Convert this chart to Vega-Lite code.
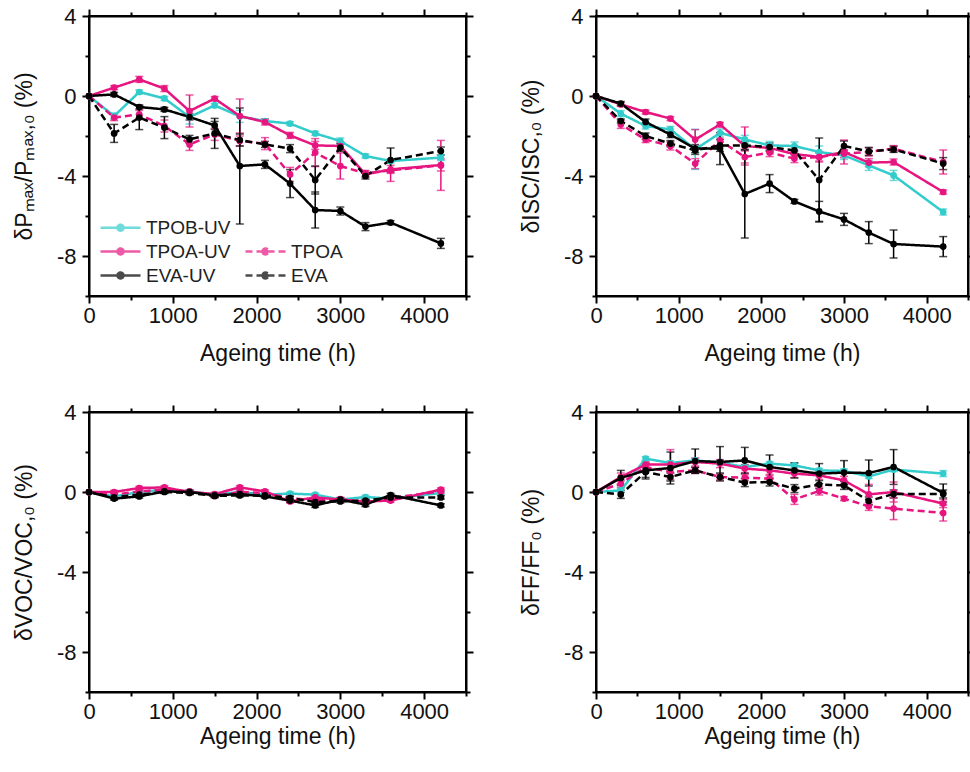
{
"$schema": "https://vega.github.io/schema/vega-lite/v6.json",
"padding": {"left": 12, "top": 4, "right": 0, "bottom": 0},
"background": "white",
"config": {
  "font": "Liberation Sans",
  "view": {"stroke": "#000", "strokeWidth": 2},
  "axis": {"domainColor": "#000", "domainWidth": 2, "tickColor": "#000", "tickWidth": 2, "labelFont": "Liberation Sans", "labelFontSize": 22, "labelColor": "#111", "titleFont": "Liberation Sans", "titleFontSize": 23, "titleFontWeight": "normal", "titleColor": "#111", "grid": false, "labelOverlap": false, "labelFlush": false}
},
"data": {"name": "rows"},
"datasets": {"rows": [
{"p":"P","s":"TPOB-UV","t":0,"v":0,"e":0},{"p":"P","s":"TPOB-UV","t":300,"v":-1.0,"e":0.15},{"p":"P","s":"TPOB-UV","t":600,"v":0.2,"e":0.1},{"p":"P","s":"TPOB-UV","t":900,"v":-0.12,"e":0.1},{"p":"P","s":"TPOB-UV","t":1200,"v":-1.05,"e":0.35},{"p":"P","s":"TPOB-UV","t":1500,"v":-0.47,"e":0.1},{"p":"P","s":"TPOB-UV","t":1800,"v":-1.02,"e":0.3},{"p":"P","s":"TPOB-UV","t":2100,"v":-1.25,"e":0.1},{"p":"P","s":"TPOB-UV","t":2400,"v":-1.38,"e":0.1},{"p":"P","s":"TPOB-UV","t":2700,"v":-1.87,"e":0.1},{"p":"P","s":"TPOB-UV","t":3000,"v":-2.25,"e":0.15},{"p":"P","s":"TPOB-UV","t":3300,"v":-3.0,"e":0.1},{"p":"P","s":"TPOB-UV","t":3600,"v":-3.25,"e":0.1},{"p":"P","s":"TPOB-UV","t":4200,"v":-3.08,"e":0.15},
{"p":"P","s":"TPOA-UV","t":0,"v":0,"e":0},{"p":"P","s":"TPOA-UV","t":300,"v":0.42,"e":0.1},{"p":"P","s":"TPOA-UV","t":600,"v":0.83,"e":0.15},{"p":"P","s":"TPOA-UV","t":900,"v":0.37,"e":0.15},{"p":"P","s":"TPOA-UV","t":1200,"v":-0.75,"e":0.8},{"p":"P","s":"TPOA-UV","t":1500,"v":-0.13,"e":0.1},{"p":"P","s":"TPOA-UV","t":1800,"v":-1.0,"e":0.85},{"p":"P","s":"TPOA-UV","t":2100,"v":-1.3,"e":0.15},{"p":"P","s":"TPOA-UV","t":2400,"v":-1.97,"e":0.15},{"p":"P","s":"TPOA-UV","t":2700,"v":-2.47,"e":0.2},{"p":"P","s":"TPOA-UV","t":3000,"v":-2.5,"e":0.2},{"p":"P","s":"TPOA-UV","t":3300,"v":-3.92,"e":0.15},{"p":"P","s":"TPOA-UV","t":3600,"v":-3.67,"e":0.2},{"p":"P","s":"TPOA-UV","t":4200,"v":-3.45,"e":0.3},
{"p":"P","s":"TPOA","t":0,"v":0,"e":0},{"p":"P","s":"TPOA","t":300,"v":-1.08,"e":0.15},{"p":"P","s":"TPOA","t":600,"v":-0.92,"e":0.2},{"p":"P","s":"TPOA","t":900,"v":-1.5,"e":0.3},{"p":"P","s":"TPOA","t":1200,"v":-2.42,"e":0.3},{"p":"P","s":"TPOA","t":1500,"v":-1.92,"e":0.3},{"p":"P","s":"TPOA","t":1800,"v":-2.25,"e":0.25},{"p":"P","s":"TPOA","t":2100,"v":-2.38,"e":0.3},{"p":"P","s":"TPOA","t":2400,"v":-3.92,"e":0.35},{"p":"P","s":"TPOA","t":2700,"v":-2.83,"e":0.7},{"p":"P","s":"TPOA","t":3000,"v":-3.5,"e":0.65},{"p":"P","s":"TPOA","t":3300,"v":-3.87,"e":0.15},{"p":"P","s":"TPOA","t":3600,"v":-3.72,"e":0.55},{"p":"P","s":"TPOA","t":4200,"v":-3.47,"e":1.25},
{"p":"P","s":"EVA-UV","t":0,"v":0,"e":0},{"p":"P","s":"EVA-UV","t":300,"v":0.08,"e":0.1},{"p":"P","s":"EVA-UV","t":600,"v":-0.55,"e":0.1},{"p":"P","s":"EVA-UV","t":900,"v":-0.67,"e":0.1},{"p":"P","s":"EVA-UV","t":1200,"v":-1.05,"e":0.15},{"p":"P","s":"EVA-UV","t":1500,"v":-1.47,"e":0.2},{"p":"P","s":"EVA-UV","t":1800,"v":-3.5,"e":2.9},{"p":"P","s":"EVA-UV","t":2100,"v":-3.42,"e":0.2},{"p":"P","s":"EVA-UV","t":2400,"v":-4.38,"e":0.7},{"p":"P","s":"EVA-UV","t":2700,"v":-5.7,"e":0.9},{"p":"P","s":"EVA-UV","t":3000,"v":-5.75,"e":0.2},{"p":"P","s":"EVA-UV","t":3300,"v":-6.53,"e":0.2},{"p":"P","s":"EVA-UV","t":3600,"v":-6.33,"e":0.1},{"p":"P","s":"EVA-UV","t":4200,"v":-7.37,"e":0.25},
{"p":"P","s":"EVA","t":0,"v":0,"e":0},{"p":"P","s":"EVA","t":300,"v":-1.87,"e":0.45},{"p":"P","s":"EVA","t":600,"v":-1.08,"e":0.6},{"p":"P","s":"EVA","t":900,"v":-1.58,"e":0.55},{"p":"P","s":"EVA","t":1200,"v":-2.17,"e":0.2},{"p":"P","s":"EVA","t":1500,"v":-1.87,"e":0.75},{"p":"P","s":"EVA","t":1800,"v":-2.2,"e":0.3},{"p":"P","s":"EVA","t":2100,"v":-2.42,"e":0.15},{"p":"P","s":"EVA","t":2400,"v":-2.63,"e":0.2},{"p":"P","s":"EVA","t":2700,"v":-4.2,"e":0.7},{"p":"P","s":"EVA","t":3000,"v":-2.58,"e":0.2},{"p":"P","s":"EVA","t":3300,"v":-4.0,"e":0.15},{"p":"P","s":"EVA","t":3600,"v":-3.2,"e":0.6},{"p":"P","s":"EVA","t":4200,"v":-2.75,"e":0.2},

{"p":"I","s":"TPOB-UV","t":0,"v":0,"e":0},{"p":"I","s":"TPOB-UV","t":300,"v":-0.88,"e":0.15},{"p":"I","s":"TPOB-UV","t":600,"v":-1.5,"e":0.15},{"p":"I","s":"TPOB-UV","t":900,"v":-1.67,"e":0.15},{"p":"I","s":"TPOB-UV","t":1200,"v":-2.67,"e":1.0},{"p":"I","s":"TPOB-UV","t":1500,"v":-1.85,"e":0.2},{"p":"I","s":"TPOB-UV","t":1800,"v":-2.17,"e":0.2},{"p":"I","s":"TPOB-UV","t":2100,"v":-2.47,"e":0.2},{"p":"I","s":"TPOB-UV","t":2400,"v":-2.5,"e":0.2},{"p":"I","s":"TPOB-UV","t":2700,"v":-2.8,"e":0.3},{"p":"I","s":"TPOB-UV","t":3000,"v":-2.97,"e":0.2},{"p":"I","s":"TPOB-UV","t":3300,"v":-3.47,"e":0.25},{"p":"I","s":"TPOB-UV","t":3600,"v":-3.97,"e":0.25},{"p":"I","s":"TPOB-UV","t":4200,"v":-5.8,"e":0.15},
{"p":"I","s":"TPOA-UV","t":0,"v":0,"e":0},{"p":"I","s":"TPOA-UV","t":300,"v":-0.42,"e":0.1},{"p":"I","s":"TPOA-UV","t":600,"v":-0.8,"e":0.1},{"p":"I","s":"TPOA-UV","t":900,"v":-1.13,"e":0.1},{"p":"I","s":"TPOA-UV","t":1200,"v":-2.18,"e":0.5},{"p":"I","s":"TPOA-UV","t":1500,"v":-1.42,"e":0.1},{"p":"I","s":"TPOA-UV","t":1800,"v":-2.5,"e":0.95},{"p":"I","s":"TPOA-UV","t":2100,"v":-2.6,"e":0.15},{"p":"I","s":"TPOA-UV","t":2400,"v":-2.9,"e":0.15},{"p":"I","s":"TPOA-UV","t":2700,"v":-3.05,"e":0.2},{"p":"I","s":"TPOA-UV","t":3000,"v":-2.8,"e":0.6},{"p":"I","s":"TPOA-UV","t":3300,"v":-3.33,"e":0.2},{"p":"I","s":"TPOA-UV","t":3600,"v":-3.3,"e":0.15},{"p":"I","s":"TPOA-UV","t":4200,"v":-4.8,"e":0.1},
{"p":"I","s":"TPOA","t":0,"v":0,"e":0},{"p":"I","s":"TPOA","t":300,"v":-1.42,"e":0.2},{"p":"I","s":"TPOA","t":600,"v":-2.18,"e":0.15},{"p":"I","s":"TPOA","t":900,"v":-2.5,"e":0.2},{"p":"I","s":"TPOA","t":1200,"v":-3.38,"e":0.25},{"p":"I","s":"TPOA","t":1500,"v":-2.22,"e":0.3},{"p":"I","s":"TPOA","t":1800,"v":-3.05,"e":0.3},{"p":"I","s":"TPOA","t":2100,"v":-2.83,"e":0.2},{"p":"I","s":"TPOA","t":2400,"v":-3.13,"e":0.2},{"p":"I","s":"TPOA","t":2700,"v":-3.05,"e":0.25},{"p":"I","s":"TPOA","t":3000,"v":-2.88,"e":0.2},{"p":"I","s":"TPOA","t":3300,"v":-2.8,"e":0.2},{"p":"I","s":"TPOA","t":3600,"v":-2.63,"e":0.15},{"p":"I","s":"TPOA","t":4200,"v":-3.3,"e":0.6},
{"p":"I","s":"EVA-UV","t":0,"v":0,"e":0},{"p":"I","s":"EVA-UV","t":300,"v":-0.38,"e":0.1},{"p":"I","s":"EVA-UV","t":600,"v":-1.3,"e":0.15},{"p":"I","s":"EVA-UV","t":900,"v":-1.93,"e":0.15},{"p":"I","s":"EVA-UV","t":1200,"v":-2.63,"e":0.2},{"p":"I","s":"EVA-UV","t":1500,"v":-2.63,"e":0.8},{"p":"I","s":"EVA-UV","t":1800,"v":-4.9,"e":2.2},{"p":"I","s":"EVA-UV","t":2100,"v":-4.38,"e":0.45},{"p":"I","s":"EVA-UV","t":2400,"v":-5.27,"e":0.1},{"p":"I","s":"EVA-UV","t":2700,"v":-5.77,"e":0.5},{"p":"I","s":"EVA-UV","t":3000,"v":-6.17,"e":0.3},{"p":"I","s":"EVA-UV","t":3300,"v":-6.83,"e":0.55},{"p":"I","s":"EVA-UV","t":3600,"v":-7.4,"e":0.7},{"p":"I","s":"EVA-UV","t":4200,"v":-7.53,"e":0.5},
{"p":"I","s":"EVA","t":0,"v":0,"e":0},{"p":"I","s":"EVA","t":300,"v":-1.25,"e":0.1},{"p":"I","s":"EVA","t":600,"v":-2.0,"e":0.15},{"p":"I","s":"EVA","t":900,"v":-2.38,"e":0.15},{"p":"I","s":"EVA","t":1200,"v":-2.72,"e":0.2},{"p":"I","s":"EVA","t":1500,"v":-2.47,"e":0.3},{"p":"I","s":"EVA","t":1800,"v":-2.47,"e":0.2},{"p":"I","s":"EVA","t":2100,"v":-2.55,"e":0.2},{"p":"I","s":"EVA","t":2400,"v":-2.72,"e":0.2},{"p":"I","s":"EVA","t":2700,"v":-4.2,"e":2.1},{"p":"I","s":"EVA","t":3000,"v":-2.5,"e":0.25},{"p":"I","s":"EVA","t":3300,"v":-2.77,"e":0.2},{"p":"I","s":"EVA","t":3600,"v":-2.67,"e":0.15},{"p":"I","s":"EVA","t":4200,"v":-3.38,"e":0.3},

{"p":"V","s":"TPOB-UV","t":0,"v":0,"e":0},{"p":"V","s":"TPOB-UV","t":300,"v":-0.22,"e":0.08},{"p":"V","s":"TPOB-UV","t":600,"v":0,"e":0.08},{"p":"V","s":"TPOB-UV","t":900,"v":0.12,"e":0.08},{"p":"V","s":"TPOB-UV","t":1200,"v":0.03,"e":0.08},{"p":"V","s":"TPOB-UV","t":1500,"v":-0.13,"e":0.08},{"p":"V","s":"TPOB-UV","t":1800,"v":0,"e":0.12},{"p":"V","s":"TPOB-UV","t":2100,"v":-0.13,"e":0.08},{"p":"V","s":"TPOB-UV","t":2400,"v":-0.08,"e":0.08},{"p":"V","s":"TPOB-UV","t":2700,"v":-0.13,"e":0.08},{"p":"V","s":"TPOB-UV","t":3000,"v":-0.38,"e":0.08},{"p":"V","s":"TPOB-UV","t":3300,"v":-0.25,"e":0.08},{"p":"V","s":"TPOB-UV","t":3600,"v":-0.33,"e":0.08},{"p":"V","s":"TPOB-UV","t":4200,"v":-0.05,"e":0.08},
{"p":"V","s":"TPOA-UV","t":0,"v":0,"e":0},{"p":"V","s":"TPOA-UV","t":300,"v":0,"e":0.08},{"p":"V","s":"TPOA-UV","t":600,"v":0.2,"e":0.08},{"p":"V","s":"TPOA-UV","t":900,"v":0.23,"e":0.08},{"p":"V","s":"TPOA-UV","t":1200,"v":0,"e":0.08},{"p":"V","s":"TPOA-UV","t":1500,"v":-0.1,"e":0.08},{"p":"V","s":"TPOA-UV","t":1800,"v":0.23,"e":0.08},{"p":"V","s":"TPOA-UV","t":2100,"v":0.03,"e":0.08},{"p":"V","s":"TPOA-UV","t":2400,"v":-0.47,"e":0.08},{"p":"V","s":"TPOA-UV","t":2700,"v":-0.27,"e":0.08},{"p":"V","s":"TPOA-UV","t":3000,"v":-0.38,"e":0.08},{"p":"V","s":"TPOA-UV","t":3300,"v":-0.47,"e":0.08},{"p":"V","s":"TPOA-UV","t":3600,"v":-0.43,"e":0.08},{"p":"V","s":"TPOA-UV","t":4200,"v":0.12,"e":0.08},
{"p":"V","s":"TPOA","t":0,"v":0,"e":0},{"p":"V","s":"TPOA","t":300,"v":-0.13,"e":0.08},{"p":"V","s":"TPOA","t":600,"v":0.03,"e":0.08},{"p":"V","s":"TPOA","t":900,"v":0.12,"e":0.08},{"p":"V","s":"TPOA","t":1200,"v":0.03,"e":0.08},{"p":"V","s":"TPOA","t":1500,"v":-0.2,"e":0.08},{"p":"V","s":"TPOA","t":1800,"v":0,"e":0.08},{"p":"V","s":"TPOA","t":2100,"v":-0.05,"e":0.08},{"p":"V","s":"TPOA","t":2400,"v":-0.3,"e":0.08},{"p":"V","s":"TPOA","t":2700,"v":-0.43,"e":0.08},{"p":"V","s":"TPOA","t":3000,"v":-0.35,"e":0.08},{"p":"V","s":"TPOA","t":3300,"v":-0.55,"e":0.08},{"p":"V","s":"TPOA","t":3600,"v":-0.3,"e":0.08},{"p":"V","s":"TPOA","t":4200,"v":0.03,"e":0.08},
{"p":"V","s":"EVA-UV","t":0,"v":0,"e":0},{"p":"V","s":"EVA-UV","t":300,"v":-0.33,"e":0.08},{"p":"V","s":"EVA-UV","t":600,"v":-0.22,"e":0.08},{"p":"V","s":"EVA-UV","t":900,"v":0.03,"e":0.08},{"p":"V","s":"EVA-UV","t":1200,"v":0,"e":0.08},{"p":"V","s":"EVA-UV","t":1500,"v":-0.17,"e":0.08},{"p":"V","s":"EVA-UV","t":1800,"v":-0.1,"e":0.08},{"p":"V","s":"EVA-UV","t":2100,"v":-0.22,"e":0.08},{"p":"V","s":"EVA-UV","t":2400,"v":-0.43,"e":0.08},{"p":"V","s":"EVA-UV","t":2700,"v":-0.67,"e":0.1},{"p":"V","s":"EVA-UV","t":3000,"v":-0.38,"e":0.08},{"p":"V","s":"EVA-UV","t":3300,"v":-0.63,"e":0.1},{"p":"V","s":"EVA-UV","t":3600,"v":-0.15,"e":0.08},{"p":"V","s":"EVA-UV","t":4200,"v":-0.67,"e":0.08},
{"p":"V","s":"EVA","t":0,"v":0,"e":0},{"p":"V","s":"EVA","t":300,"v":-0.27,"e":0.08},{"p":"V","s":"EVA","t":600,"v":-0.13,"e":0.08},{"p":"V","s":"EVA","t":900,"v":0,"e":0.08},{"p":"V","s":"EVA","t":1200,"v":-0.05,"e":0.08},{"p":"V","s":"EVA","t":1500,"v":-0.2,"e":0.08},{"p":"V","s":"EVA","t":1800,"v":-0.17,"e":0.08},{"p":"V","s":"EVA","t":2100,"v":-0.17,"e":0.08},{"p":"V","s":"EVA","t":2400,"v":-0.3,"e":0.08},{"p":"V","s":"EVA","t":2700,"v":-0.5,"e":0.1},{"p":"V","s":"EVA","t":3000,"v":-0.47,"e":0.08},{"p":"V","s":"EVA","t":3300,"v":-0.43,"e":0.08},{"p":"V","s":"EVA","t":3600,"v":-0.27,"e":0.08},{"p":"V","s":"EVA","t":4200,"v":-0.27,"e":0.08},

{"p":"F","s":"TPOB-UV","t":0,"v":0,"e":0},{"p":"F","s":"TPOB-UV","t":300,"v":0.08,"e":0.1},{"p":"F","s":"TPOB-UV","t":600,"v":1.67,"e":0.1},{"p":"F","s":"TPOB-UV","t":900,"v":1.45,"e":0.1},{"p":"F","s":"TPOB-UV","t":1200,"v":1.58,"e":0.1},{"p":"F","s":"TPOB-UV","t":1500,"v":1.47,"e":0.1},{"p":"F","s":"TPOB-UV","t":1800,"v":1.25,"e":0.1},{"p":"F","s":"TPOB-UV","t":2100,"v":1.42,"e":0.1},{"p":"F","s":"TPOB-UV","t":2400,"v":1.33,"e":0.1},{"p":"F","s":"TPOB-UV","t":2700,"v":1.08,"e":0.1},{"p":"F","s":"TPOB-UV","t":3000,"v":1.05,"e":0.1},{"p":"F","s":"TPOB-UV","t":3300,"v":0.78,"e":0.1},{"p":"F","s":"TPOB-UV","t":3600,"v":1.12,"e":0.1},{"p":"F","s":"TPOB-UV","t":4200,"v":0.92,"e":0.15},
{"p":"F","s":"TPOA-UV","t":0,"v":0,"e":0},{"p":"F","s":"TPOA-UV","t":300,"v":0.75,"e":0.2},{"p":"F","s":"TPOA-UV","t":600,"v":1.37,"e":0.15},{"p":"F","s":"TPOA-UV","t":900,"v":1.37,"e":0.75},{"p":"F","s":"TPOA-UV","t":1200,"v":1.5,"e":0.2},{"p":"F","s":"TPOA-UV","t":1500,"v":1.42,"e":0.2},{"p":"F","s":"TPOA-UV","t":1800,"v":1.17,"e":0.2},{"p":"F","s":"TPOA-UV","t":2100,"v":1.08,"e":0.2},{"p":"F","s":"TPOA-UV","t":2400,"v":0.92,"e":0.2},{"p":"F","s":"TPOA-UV","t":2700,"v":0.83,"e":0.2},{"p":"F","s":"TPOA-UV","t":3000,"v":0.58,"e":0.2},{"p":"F","s":"TPOA-UV","t":3300,"v":-0.12,"e":0.5},{"p":"F","s":"TPOA-UV","t":3600,"v":0,"e":0.5},{"p":"F","s":"TPOA-UV","t":4200,"v":-0.58,"e":0.2},
{"p":"F","s":"TPOA","t":0,"v":0,"e":0},{"p":"F","s":"TPOA","t":300,"v":0.42,"e":0.2},{"p":"F","s":"TPOA","t":600,"v":1.25,"e":0.2},{"p":"F","s":"TPOA","t":900,"v":1.0,"e":0.2},{"p":"F","s":"TPOA","t":1200,"v":1.08,"e":0.15},{"p":"F","s":"TPOA","t":1500,"v":0.75,"e":0.15},{"p":"F","s":"TPOA","t":1800,"v":0.72,"e":0.15},{"p":"F","s":"TPOA","t":2100,"v":0.67,"e":0.15},{"p":"F","s":"TPOA","t":2400,"v":-0.37,"e":0.25},{"p":"F","s":"TPOA","t":2700,"v":0.05,"e":0.2},{"p":"F","s":"TPOA","t":3000,"v":-0.33,"e":0.1},{"p":"F","s":"TPOA","t":3300,"v":-0.72,"e":0.2},{"p":"F","s":"TPOA","t":3600,"v":-0.83,"e":0.55},{"p":"F","s":"TPOA","t":4200,"v":-1.05,"e":0.4},
{"p":"F","s":"EVA-UV","t":0,"v":0,"e":0},{"p":"F","s":"EVA-UV","t":300,"v":0.7,"e":0.38},{"p":"F","s":"EVA-UV","t":600,"v":1.08,"e":0.35},{"p":"F","s":"EVA-UV","t":900,"v":1.2,"e":0.8},{"p":"F","s":"EVA-UV","t":1200,"v":1.55,"e":0.6},{"p":"F","s":"EVA-UV","t":1500,"v":1.5,"e":0.77},{"p":"F","s":"EVA-UV","t":1800,"v":1.58,"e":0.65},{"p":"F","s":"EVA-UV","t":2100,"v":1.25,"e":0.6},{"p":"F","s":"EVA-UV","t":2400,"v":1.08,"e":0.38},{"p":"F","s":"EVA-UV","t":2700,"v":0.92,"e":0.5},{"p":"F","s":"EVA-UV","t":3000,"v":0.97,"e":0.6},{"p":"F","s":"EVA-UV","t":3300,"v":0.95,"e":0.65},{"p":"F","s":"EVA-UV","t":3600,"v":1.25,"e":0.87},{"p":"F","s":"EVA-UV","t":4200,"v":-0.05,"e":0.45},
{"p":"F","s":"EVA","t":0,"v":0,"e":0},{"p":"F","s":"EVA","t":300,"v":-0.12,"e":0.2},{"p":"F","s":"EVA","t":600,"v":1.0,"e":0.35},{"p":"F","s":"EVA","t":900,"v":0.75,"e":0.2},{"p":"F","s":"EVA","t":1200,"v":1.08,"e":0.15},{"p":"F","s":"EVA","t":1500,"v":0.75,"e":0.2},{"p":"F","s":"EVA","t":1800,"v":0.47,"e":0.2},{"p":"F","s":"EVA","t":2100,"v":0.5,"e":0.2},{"p":"F","s":"EVA","t":2400,"v":0.17,"e":0.2},{"p":"F","s":"EVA","t":2700,"v":0.37,"e":0.2},{"p":"F","s":"EVA","t":3000,"v":0.33,"e":0.2},{"p":"F","s":"EVA","t":3300,"v":-0.45,"e":0.2},{"p":"F","s":"EVA","t":3600,"v":-0.1,"e":0.2},{"p":"F","s":"EVA","t":4200,"v":-0.1,"e":0.2}
]},
"columns": 2,
"spacing": {"row": 34, "column": 44},
"resolve": {"legend": {"color": "independent", "strokeDash": "independent"}},
"concat": [
{
 "width": 377, "height": 280,
 "transform": [{"filter": "datum.p === 'P'"}],
 "resolve": {"axis": {"x": "independent", "y": "independent"}},
 "layer": [
  {"transform": [{"filter": "datum.e > 0"}], "mark": {"type": "errorbar", "ticks": true, "size": 8, "thickness": 1.5},
   "encoding": {"x": {"field": "t", "type": "quantitative", "scale": {"domain": [0, 4500], "nice": false}, "axis": null}, "y": {"field": "v", "type": "quantitative", "scale": {"domain": [-10, 4], "nice": false}, "axis": null}, "yError": {"field": "e"},
    "color": {"field": "s", "type": "nominal", "scale": {"domain": ["TPOB-UV", "TPOA-UV", "EVA-UV", " ", "TPOA", "EVA"], "range": ["#33cccc", "#e6157f", "#000000", "rgba(0,0,0,0)", "#e6157f", "#000000"]}}}},
  {"mark": {"type": "line", "strokeWidth": 2.5},
   "encoding": {"x": {"field": "t", "type": "quantitative", "scale": {"domain": [0, 4500], "nice": false}, "axis": {"title": "Ageing time (h)", "values": [0,500,1000,1500,2000,2500,3000,3500,4000,4500], "labelExpr": "datum.value % 1000 === 0 ? '' + datum.value : ''", "tickSize": {"condition": {"test": "datum.value % 1000 === 0", "value": 7}, "value": 4}, "labelPadding": 2, "titlePadding": 16}},
    "y": {"field": "v", "type": "quantitative", "scale": {"domain": [-10, 4], "nice": false}, "axis": {"title": "δPₘₐₓ/Pₘₐₓ,₀ (%)", "values": [-10,-8,-6,-4,-2,0,2,4], "labelExpr": "datum.value % 4 === 0 ? '' + datum.value : ''", "tickSize": {"condition": {"test": "datum.value % 4 === 0", "value": 7}, "value": 4}, "labelPadding": 6, "titlePadding": 20}},
    "color": {"field": "s", "type": "nominal", "scale": {"domain": ["TPOB-UV", "TPOA-UV", "EVA-UV", " ", "TPOA", "EVA"], "range": ["#33cccc", "#e6157f", "#000000", "rgba(0,0,0,0)", "#e6157f", "#000000"]},
      "legend": {"title": null, "orient": "bottom-left", "offset": 10, "columns": 2, "columnPadding": 9, "rowPadding": 2, "padding": 0, "symbolType": "M-1,0L3,0M0.7,0A0.3,0.3,0,1,1,1.3,0A0.3,0.3,0,1,1,0.7,0", "symbolSize": 400, "symbolStrokeWidth": 2.5, "labelFont": "Liberation Sans", "labelFontSize": 19, "labelColor": "#222", "labelOffset": 24}},
    "strokeDash": {"field": "s", "type": "nominal", "scale": {"domain": ["TPOB-UV", "TPOA-UV", "EVA-UV", " ", "TPOA", "EVA"], "range": [[1,0],[1,0],[1,0],[1,0],[7,4],[7,4]]},
      "legend": {"title": null, "orient": "bottom-left", "offset": 10, "columns": 2, "columnPadding": 9, "rowPadding": 2, "padding": 0, "symbolType": "M-1,0L3,0M0.7,0A0.3,0.3,0,1,1,1.3,0A0.3,0.3,0,1,1,0.7,0", "symbolSize": 400, "symbolStrokeWidth": 2.5, "labelFont": "Liberation Sans", "labelFontSize": 19, "labelColor": "#222", "labelOffset": 24}}}},
  {"mark": {"type": "point", "filled": true, "size": 45, "opacity": 1},
   "encoding": {"x": {"field": "t", "type": "quantitative", "scale": {"domain": [0, 4500], "nice": false}, "axis": {"orient": "top", "title": null, "labels": false, "values": [0,500,1000,1500,2000,2500,3000,3500,4000,4500], "tickSize": {"condition": {"test": "datum.value % 1000 === 0", "value": 7}, "value": 4}}},
    "y": {"field": "v", "type": "quantitative", "scale": {"domain": [-10, 4], "nice": false}, "axis": {"orient": "right", "title": null, "labels": false, "values": [-10,-8,-6,-4,-2,0,2,4], "tickSize": {"condition": {"test": "datum.value % 4 === 0", "value": 7}, "value": 4}}},
    "color": {"field": "s", "type": "nominal", "scale": {"domain": ["TPOB-UV", "TPOA-UV", "EVA-UV", " ", "TPOA", "EVA"], "range": ["#33cccc", "#e6157f", "#000000", "rgba(0,0,0,0)", "#e6157f", "#000000"]}}}}
 ]
},
{
 "width": 372, "height": 280,
 "transform": [{"filter": "datum.p === 'I'"}],
 "resolve": {"axis": {"x": "independent", "y": "independent"}},
 "layer": [
  {"transform": [{"filter": "datum.e > 0"}], "mark": {"type": "errorbar", "ticks": true, "size": 8, "thickness": 1.5},
   "encoding": {"x": {"field": "t", "type": "quantitative", "scale": {"domain": [0, 4500], "nice": false}, "axis": null}, "y": {"field": "v", "type": "quantitative", "scale": {"domain": [-10, 4], "nice": false}, "axis": null}, "yError": {"field": "e"},
    "color": {"field": "s", "type": "nominal", "scale": {"domain": ["TPOB-UV", "TPOA-UV", "EVA-UV", " ", "TPOA", "EVA"], "range": ["#33cccc", "#e6157f", "#000000", "rgba(0,0,0,0)", "#e6157f", "#000000"]}, "legend": null}}},
  {"mark": {"type": "line", "strokeWidth": 2.5},
   "encoding": {"x": {"field": "t", "type": "quantitative", "scale": {"domain": [0, 4500], "nice": false}, "axis": {"title": "Ageing time (h)", "values": [0,500,1000,1500,2000,2500,3000,3500,4000,4500], "labelExpr": "datum.value % 1000 === 0 ? '' + datum.value : ''", "tickSize": {"condition": {"test": "datum.value % 1000 === 0", "value": 7}, "value": 4}, "labelPadding": 2, "titlePadding": 16}},
    "y": {"field": "v", "type": "quantitative", "scale": {"domain": [-10, 4], "nice": false}, "axis": {"title": "δISC/ISC,₀ (%)", "values": [-10,-8,-6,-4,-2,0,2,4], "labelExpr": "datum.value % 4 === 0 ? '' + datum.value : ''", "tickSize": {"condition": {"test": "datum.value % 4 === 0", "value": 7}, "value": 4}, "labelPadding": 6, "titlePadding": 20}},
    "color": {"field": "s", "type": "nominal", "scale": {"domain": ["TPOB-UV", "TPOA-UV", "EVA-UV", " ", "TPOA", "EVA"], "range": ["#33cccc", "#e6157f", "#000000", "rgba(0,0,0,0)", "#e6157f", "#000000"]}, "legend": null},
    "strokeDash": {"field": "s", "type": "nominal", "scale": {"domain": ["TPOB-UV", "TPOA-UV", "EVA-UV", " ", "TPOA", "EVA"], "range": [[1,0],[1,0],[1,0],[1,0],[7,4],[7,4]]}, "legend": null}}},
  {"mark": {"type": "point", "filled": true, "size": 45, "opacity": 1},
   "encoding": {"x": {"field": "t", "type": "quantitative", "scale": {"domain": [0, 4500], "nice": false}, "axis": {"orient": "top", "title": null, "labels": false, "values": [0,500,1000,1500,2000,2500,3000,3500,4000,4500], "tickSize": {"condition": {"test": "datum.value % 1000 === 0", "value": 7}, "value": 4}}},
    "y": {"field": "v", "type": "quantitative", "scale": {"domain": [-10, 4], "nice": false}, "axis": {"orient": "right", "title": null, "labels": false, "values": [-10,-8,-6,-4,-2,0,2,4], "tickSize": {"condition": {"test": "datum.value % 4 === 0", "value": 7}, "value": 4}}},
    "color": {"field": "s", "type": "nominal", "scale": {"domain": ["TPOB-UV", "TPOA-UV", "EVA-UV", " ", "TPOA", "EVA"], "range": ["#33cccc", "#e6157f", "#000000", "rgba(0,0,0,0)", "#e6157f", "#000000"]}, "legend": null}}}
 ]
},
{
 "width": 377, "height": 280,
 "transform": [{"filter": "datum.p === 'V'"}],
 "resolve": {"axis": {"x": "independent", "y": "independent"}},
 "layer": [
  {"transform": [{"filter": "datum.e > 0"}], "mark": {"type": "errorbar", "ticks": true, "size": 8, "thickness": 1.5},
   "encoding": {"x": {"field": "t", "type": "quantitative", "scale": {"domain": [0, 4500], "nice": false}, "axis": null}, "y": {"field": "v", "type": "quantitative", "scale": {"domain": [-10, 4], "nice": false}, "axis": null}, "yError": {"field": "e"},
    "color": {"field": "s", "type": "nominal", "scale": {"domain": ["TPOB-UV", "TPOA-UV", "EVA-UV", " ", "TPOA", "EVA"], "range": ["#33cccc", "#e6157f", "#000000", "rgba(0,0,0,0)", "#e6157f", "#000000"]}, "legend": null}}},
  {"mark": {"type": "line", "strokeWidth": 2.5},
   "encoding": {"x": {"field": "t", "type": "quantitative", "scale": {"domain": [0, 4500], "nice": false}, "axis": {"title": "Ageing time (h)", "values": [0,500,1000,1500,2000,2500,3000,3500,4000,4500], "labelExpr": "datum.value % 1000 === 0 ? '' + datum.value : ''", "tickSize": {"condition": {"test": "datum.value % 1000 === 0", "value": 7}, "value": 4}, "labelPadding": 2, "titlePadding": 3}},
    "y": {"field": "v", "type": "quantitative", "scale": {"domain": [-10, 4], "nice": false}, "axis": {"title": "δVOC/VOC,₀ (%)", "values": [-10,-8,-6,-4,-2,0,2,4], "labelExpr": "datum.value % 4 === 0 ? '' + datum.value : ''", "tickSize": {"condition": {"test": "datum.value % 4 === 0", "value": 7}, "value": 4}, "labelPadding": 6, "titlePadding": 20}},
    "color": {"field": "s", "type": "nominal", "scale": {"domain": ["TPOB-UV", "TPOA-UV", "EVA-UV", " ", "TPOA", "EVA"], "range": ["#33cccc", "#e6157f", "#000000", "rgba(0,0,0,0)", "#e6157f", "#000000"]}, "legend": null},
    "strokeDash": {"field": "s", "type": "nominal", "scale": {"domain": ["TPOB-UV", "TPOA-UV", "EVA-UV", " ", "TPOA", "EVA"], "range": [[1,0],[1,0],[1,0],[1,0],[7,4],[7,4]]}, "legend": null}}},
  {"mark": {"type": "point", "filled": true, "size": 45, "opacity": 1},
   "encoding": {"x": {"field": "t", "type": "quantitative", "scale": {"domain": [0, 4500], "nice": false}, "axis": {"orient": "top", "title": null, "labels": false, "values": [0,500,1000,1500,2000,2500,3000,3500,4000,4500], "tickSize": {"condition": {"test": "datum.value % 1000 === 0", "value": 7}, "value": 4}}},
    "y": {"field": "v", "type": "quantitative", "scale": {"domain": [-10, 4], "nice": false}, "axis": {"orient": "right", "title": null, "labels": false, "values": [-10,-8,-6,-4,-2,0,2,4], "tickSize": {"condition": {"test": "datum.value % 4 === 0", "value": 7}, "value": 4}}},
    "color": {"field": "s", "type": "nominal", "scale": {"domain": ["TPOB-UV", "TPOA-UV", "EVA-UV", " ", "TPOA", "EVA"], "range": ["#33cccc", "#e6157f", "#000000", "rgba(0,0,0,0)", "#e6157f", "#000000"]}, "legend": null}}}
 ]
},
{
 "width": 372, "height": 280,
 "transform": [{"filter": "datum.p === 'F'"}],
 "resolve": {"axis": {"x": "independent", "y": "independent"}},
 "layer": [
  {"transform": [{"filter": "datum.e > 0"}], "mark": {"type": "errorbar", "ticks": true, "size": 8, "thickness": 1.5},
   "encoding": {"x": {"field": "t", "type": "quantitative", "scale": {"domain": [0, 4500], "nice": false}, "axis": null}, "y": {"field": "v", "type": "quantitative", "scale": {"domain": [-10, 4], "nice": false}, "axis": null}, "yError": {"field": "e"},
    "color": {"field": "s", "type": "nominal", "scale": {"domain": ["TPOB-UV", "TPOA-UV", "EVA-UV", " ", "TPOA", "EVA"], "range": ["#33cccc", "#e6157f", "#000000", "rgba(0,0,0,0)", "#e6157f", "#000000"]}, "legend": null}}},
  {"mark": {"type": "line", "strokeWidth": 2.5},
   "encoding": {"x": {"field": "t", "type": "quantitative", "scale": {"domain": [0, 4500], "nice": false}, "axis": {"title": "Ageing time (h)", "values": [0,500,1000,1500,2000,2500,3000,3500,4000,4500], "labelExpr": "datum.value % 1000 === 0 ? '' + datum.value : ''", "tickSize": {"condition": {"test": "datum.value % 1000 === 0", "value": 7}, "value": 4}, "labelPadding": 2, "titlePadding": 3}},
    "y": {"field": "v", "type": "quantitative", "scale": {"domain": [-10, 4], "nice": false}, "axis": {"title": "δFF/FF₀ (%)", "values": [-10,-8,-6,-4,-2,0,2,4], "labelExpr": "datum.value % 4 === 0 ? '' + datum.value : ''", "tickSize": {"condition": {"test": "datum.value % 4 === 0", "value": 7}, "value": 4}, "labelPadding": 6, "titlePadding": 20}},
    "color": {"field": "s", "type": "nominal", "scale": {"domain": ["TPOB-UV", "TPOA-UV", "EVA-UV", " ", "TPOA", "EVA"], "range": ["#33cccc", "#e6157f", "#000000", "rgba(0,0,0,0)", "#e6157f", "#000000"]}, "legend": null},
    "strokeDash": {"field": "s", "type": "nominal", "scale": {"domain": ["TPOB-UV", "TPOA-UV", "EVA-UV", " ", "TPOA", "EVA"], "range": [[1,0],[1,0],[1,0],[1,0],[7,4],[7,4]]}, "legend": null}}},
  {"mark": {"type": "point", "filled": true, "size": 45, "opacity": 1},
   "encoding": {"x": {"field": "t", "type": "quantitative", "scale": {"domain": [0, 4500], "nice": false}, "axis": {"orient": "top", "title": null, "labels": false, "values": [0,500,1000,1500,2000,2500,3000,3500,4000,4500], "tickSize": {"condition": {"test": "datum.value % 1000 === 0", "value": 7}, "value": 4}}},
    "y": {"field": "v", "type": "quantitative", "scale": {"domain": [-10, 4], "nice": false}, "axis": {"orient": "right", "title": null, "labels": false, "values": [-10,-8,-6,-4,-2,0,2,4], "tickSize": {"condition": {"test": "datum.value % 4 === 0", "value": 7}, "value": 4}}},
    "color": {"field": "s", "type": "nominal", "scale": {"domain": ["TPOB-UV", "TPOA-UV", "EVA-UV", " ", "TPOA", "EVA"], "range": ["#33cccc", "#e6157f", "#000000", "rgba(0,0,0,0)", "#e6157f", "#000000"]}, "legend": null}}}
 ]
}
]
}
